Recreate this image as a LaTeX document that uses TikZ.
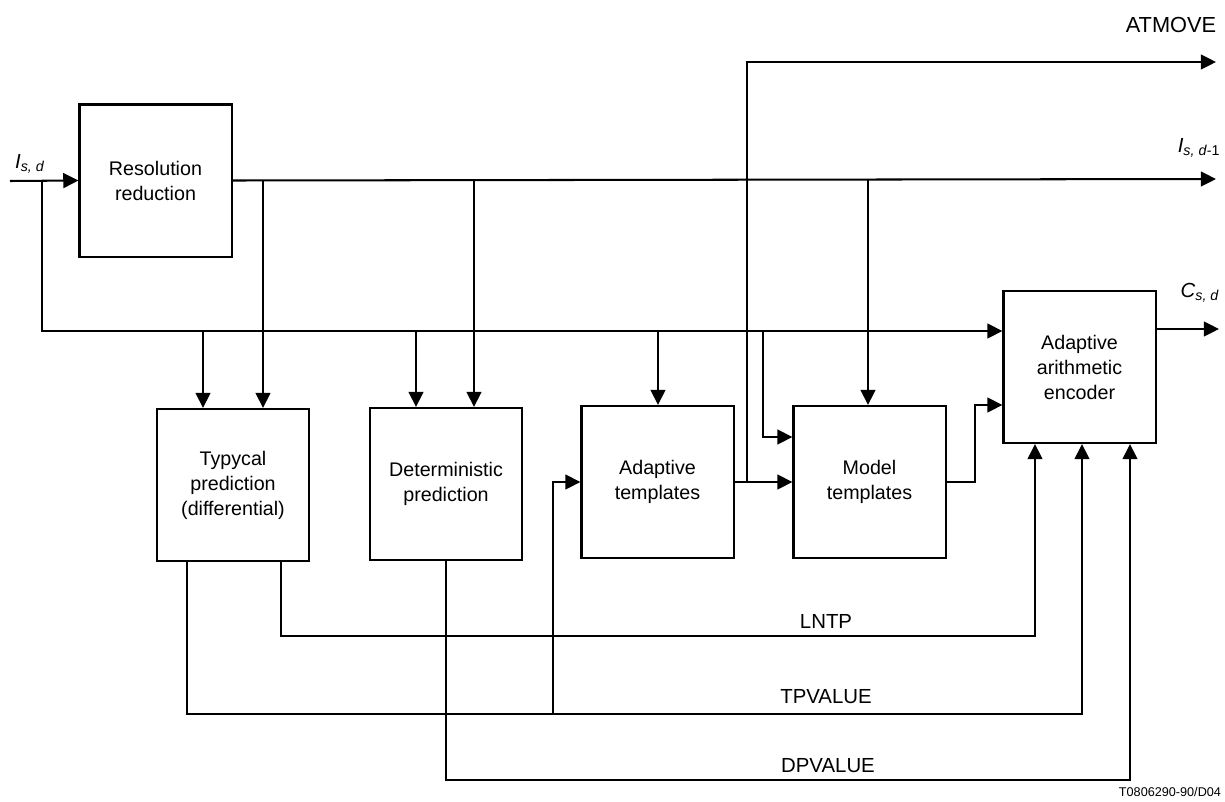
\documentclass[tikz,border=0pt]{standalone}
\usepackage{fontspec}
\setmainfont{Liberation Sans}
\usetikzlibrary{arrows.meta}

\begin{document}
\begin{tikzpicture}[x=0.025cm, y=-0.025cm, line width=1.45pt,
    block/.style={draw, minimum width=3.8cm, minimum height=3.8cm, align=center, font=\fontsize{14}{17.8}\selectfont},
    arr/.style={-{Triangle[length=0.38cm, width=0.37cm]}},
    sig/.style={font=\fontsize{14.5}{16}\selectfont}]
    \useasboundingbox (0,0) rectangle (1225,802);

    % blocks
    \node[block] (res) at (155.5,180.5) {Resolution\\reduction};
    \node[block] (tp) at (233,485) {Typycal\\prediction\\(differential)};
    \node[block] (dp) at (446,484) {Deterministic\\prediction};
    \node[block] (at) at (657.5,482) {Adaptive\\templates};
    \node[block] (mt) at (869.5,482) {Model\\templates};
    \node[block] (enc) at (1079.5,367) {Adaptive\\arithmetic\\encoder};

    % free ends and junctions
    \coordinate (in) at (10,181);
    \coordinate (isd) at (42,181);
    \coordinate (low) at (42,331);
    \coordinate (atmove) at (1216,62);
    \coordinate (isd1) at (1216,179);
    \coordinate (csd) at (1219,329);

    % input, low resolution image and the two buses
    \draw[arr] (in) -- (res.west);
    \draw[arr] (res.east) -- (isd1);
    \draw[arr] (isd) |- (enc.west |- low);
    \foreach \x/\b in {203/tp, 416/dp, 658/at} {\draw[arr] (\x,331) -- (\x,331 |- \b.north);}
    \foreach \x/\b in {263/tp, 474/dp, 868/mt} {\draw[arr] (\x,180) -- (\x,180 |- \b.north);}
    \draw[arr] (763,331) |- (mt.west |- 0,437);

    % templates
    \draw[arr] (at.east) -- (at.east -| mt.west);
    \draw[arr] (747,482) |- (atmove);
    \draw[arr] (mt.east) -- (975,482) |- (enc.west |- 0,405);
    \draw[arr] (enc.east |- csd) -- (csd);

    % prediction outputs
    \draw[arr] (281,0 |- tp.south) -- (281,636) -| (1035,0 |- enc.south);
    \draw[arr] (187,0 |- tp.south) -- (187,714) -| (1082,0 |- enc.south);
    \draw[arr] (553,714) |- (at.west);
    \draw[arr] (dp.south) -- (446,780) -| (1130,0 |- enc.south);

    % labels
    \node[sig] (lisd) at (30,164) {\textit{I}\textsubscript{\textit{s, d}}};
    \node[sig] (lisd1) at (1199,148) {\textit{I}\textsubscript{\textit{s, d}-1}};
    \node[sig] (lcsd) at (1200,293) {\textit{C}\textsubscript{\textit{s, d}}};
    \node[sig, font=\fontsize{15.5}{17}\selectfont] (latmove) at (1171,25) {ATMOVE};
    \node[sig] (llntp) at (826,621) {LNTP};
    \node[sig] (ltpv) at (826,697) {TPVALUE};
    \node[sig] (ldpv) at (828,766) {DPVALUE};
    \node[font=\fontsize{9}{11}\selectfont, anchor=east, inner sep=0pt] (fig) at (1222,792) {T0806290-90/D04};
\end{tikzpicture}
\end{document}
